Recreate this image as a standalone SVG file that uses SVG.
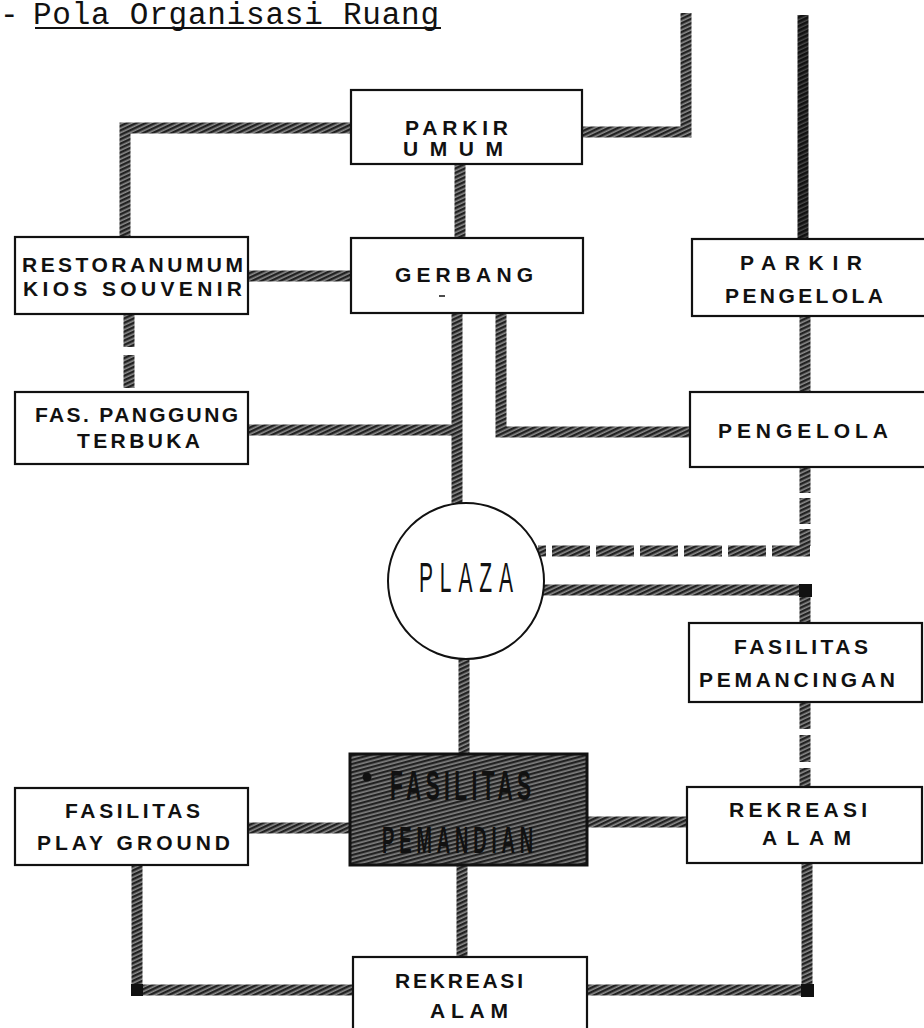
<svg xmlns="http://www.w3.org/2000/svg" width="924" height="1028" viewBox="0 0 924 1028">
<defs>
<pattern id="hatch" width="4" height="4" patternUnits="userSpaceOnUse" patternTransform="rotate(-25)">
<rect width="4" height="4" fill="#8c8c8c"/><rect width="4" height="2.4" fill="#222"/>
</pattern>
<pattern id="hatchDark" width="4" height="4" patternUnits="userSpaceOnUse" patternTransform="rotate(-25)">
<rect width="4" height="4" fill="#4a4a4a"/><rect width="4" height="2.6" fill="#111"/>
</pattern>
<pattern id="hatchBox" width="4" height="4" patternUnits="userSpaceOnUse" patternTransform="rotate(-15)">
<rect width="4" height="4" fill="#808080"/><rect width="4" height="2.3" fill="#222"/>
</pattern>
</defs>
<style>
.c{fill:none;stroke:url(#hatch);stroke-width:11;stroke-linejoin:miter;stroke-linecap:butt}
.cd{stroke:url(#hatchDark)}
.box{fill:#fff;stroke:#111;stroke-width:2.2}
.lb{font-family:"Liberation Sans",Arial,sans-serif;font-weight:bold;font-size:21px;fill:#111}
.title{font-family:"Liberation Mono","Courier New",monospace;font-size:31px;fill:#111}
.cond{font-family:"Liberation Sans",Arial,sans-serif;fill:#111}
</style>
<rect width="924" height="1028" fill="#fff"/>

<g id="title">
<text class="title" x="0" y="24">-</text>
<text class="title" x="33" y="24" textLength="406" lengthAdjust="spacing">Pola Organisasi Ruang</text>
<line x1="35" y1="28" x2="441" y2="28" stroke="#111" stroke-width="2"/>
</g>

<g id="connectors">
<path class="c" d="M351,128 H125 V237"/>
<path class="c" d="M582,132 H686 V13"/>
<path class="c cd" d="M803,15 V239"/>
<path class="c" d="M460,164 V238"/>
<path class="c" d="M248,276 H351"/>
<path class="c" d="M129,314 V392" stroke-dasharray="33 8"/>
<path class="c" d="M457,313 V505"/>
<path class="c" d="M248,430 H457"/>
<path class="c" d="M501,313 V432 H690"/>
<path class="c" d="M805,316 V392"/>
<path class="c" d="M805,467 V546" stroke-dasharray="26 5"/>
<path class="c" d="M810,551 H538" stroke-dasharray="38 6"/>
<path class="c" d="M543,590 H805 V623"/>
<path class="c" d="M805,702 V787" stroke-dasharray="27 6"/>
<path class="c" d="M587,990 H807 V863"/>
<path class="c" d="M587,822 H687"/>
<path class="c" d="M464,659 V754"/>
<path class="c" d="M462,865 V957"/>
<path class="c" d="M248,828 H350"/>
<path class="c" d="M137,865 V990 H353"/>
<rect x="799" y="584" width="13" height="13" fill="#111"/>
<rect x="801" y="984" width="13" height="13" fill="#111"/>
<rect x="131" y="984" width="12" height="12" fill="#111"/>
</g>

<g id="parkir-umum">
<rect class="box" x="351" y="90" width="231" height="74"/>
<text class="lb" x="405" y="135" textLength="103" lengthAdjust="spacing">PARKIR</text>
<text class="lb" x="403" y="156" textLength="100" lengthAdjust="spacing">UMUM</text>
</g>

<g id="restoran">
<rect class="box" x="15" y="237" width="233" height="77"/>
<text class="lb" x="22" y="272" textLength="221" lengthAdjust="spacing">RESTORANUMUM</text>
<text class="lb" x="23" y="296" textLength="219" lengthAdjust="spacing">KIOS SOUVENIR</text>
</g>

<g id="gerbang">
<rect class="box" x="351" y="238" width="232" height="75"/>
<text class="lb" x="395" y="282" textLength="138" lengthAdjust="spacing">GERBANG</text>
<line x1="439" y1="296" x2="445" y2="296" stroke="#111" stroke-width="1.5"/>
</g>

<g id="parkir-pengelola">
<rect class="box" x="692" y="239" width="240" height="77"/>
<text class="lb" x="740" y="270" textLength="122" lengthAdjust="spacing">PARKIR</text>
<text class="lb" x="725" y="303" textLength="158" lengthAdjust="spacing">PENGELOLA</text>
</g>

<g id="panggung">
<rect class="box" x="15" y="392" width="233" height="72"/>
<text class="lb" x="35" y="422" textLength="203" lengthAdjust="spacing">FAS. PANGGUNG</text>
<text class="lb" x="77" y="448" textLength="123" lengthAdjust="spacing">TERBUKA</text>
</g>

<g id="pengelola">
<rect class="box" x="690" y="392" width="242" height="75"/>
<text class="lb" x="718" y="438" textLength="170" lengthAdjust="spacing">PENGELOLA</text>
</g>

<g id="plaza">
<circle cx="466" cy="581" r="78" fill="#fff" stroke="#111" stroke-width="2"/>
<text class="cond" transform="translate(419,592) scale(0.5,1)" font-size="42" textLength="188" lengthAdjust="spacing">PLAZA</text>
</g>

<g id="pemancingan">
<rect class="box" x="689" y="623" width="233" height="79"/>
<text class="lb" x="734" y="654" textLength="134" lengthAdjust="spacing">FASILITAS</text>
<text class="lb" x="699" y="687" textLength="196" lengthAdjust="spacing">PEMANCINGAN</text>
</g>

<g id="playground">
<rect class="box" x="15" y="788" width="233" height="77"/>
<text class="lb" x="65" y="818" textLength="135" lengthAdjust="spacing">FASILITAS</text>
<text class="lb" x="37" y="850" textLength="193" lengthAdjust="spacing">PLAY GROUND</text>
</g>

<g id="pemandian">
<rect x="350" y="754" width="237" height="111" fill="url(#hatchBox)" stroke="#111" stroke-width="3"/>
<circle cx="367" cy="777" r="4.5" fill="#111"/>
<text class="cond" font-weight="bold" transform="translate(390,800) scale(0.5,1)" font-size="42" textLength="282" lengthAdjust="spacing">FASILITAS</text>
<text class="cond" font-weight="bold" transform="translate(382,853) scale(0.5,1)" font-size="37" textLength="302" lengthAdjust="spacing">PEMANDIAN</text>
</g>

<g id="rekreasi-kanan">
<rect class="box" x="687" y="787" width="235" height="76"/>
<text class="lb" x="729" y="817" textLength="138" lengthAdjust="spacing">REKREASI</text>
<text class="lb" x="762" y="845" textLength="89" lengthAdjust="spacing">ALAM</text>
</g>

<g id="rekreasi-bawah">
<rect class="box" x="353" y="957" width="234" height="80"/>
<text class="lb" x="395" y="988" textLength="128" lengthAdjust="spacing">REKREASI</text>
<text class="lb" x="430" y="1018" textLength="78" lengthAdjust="spacing">ALAM</text>
</g>
</svg>
